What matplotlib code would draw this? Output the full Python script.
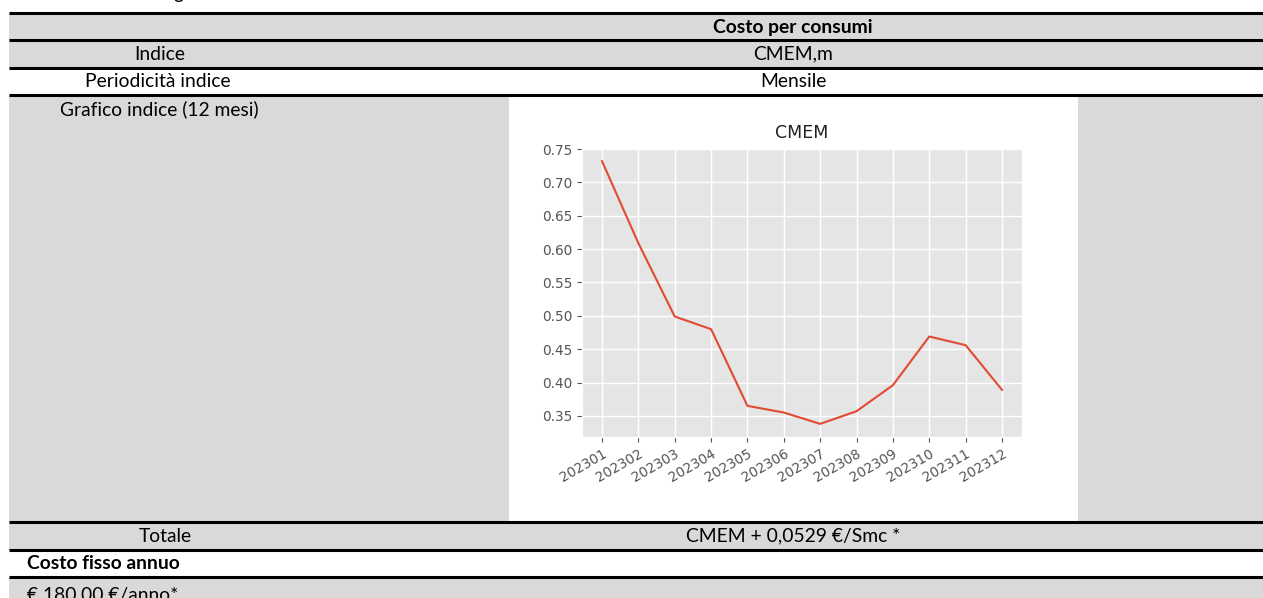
import matplotlib
matplotlib.use("Agg")
import matplotlib.pyplot as plt
from matplotlib.patches import Rectangle

# ---- data ----
months = ["202301", "202302", "202303", "202304", "202305", "202306",
          "202307", "202308", "202309", "202310", "202311", "202312"]
cmem = [0.732, 0.609, 0.499, 0.480, 0.365, 0.355,
        0.338, 0.357, 0.396, 0.469, 0.456, 0.389]
yticks = [0.35, 0.40, 0.45, 0.50, 0.55, 0.60, 0.65, 0.70, 0.75]

header = "Costo per consumi"
row_labels = ["Indice", "Periodicità indice", "Grafico indice (12 mesi)", "Totale"]
row_values = ["CMEM,m", "Mensile", "", "CMEM + 0,0529 €/Smc *"]
fixed_title = "Costo fisso annuo"
fixed_value = "€ 180.00 €/anno*"
chart_title = "CMEM"

W, H = 1263, 598
fig = plt.figure(figsize=(W / 100, H / 100), dpi=100)
bg = fig.add_axes([0, 0, 1, 1])
bg.set_xlim(0, W)
bg.set_ylim(H, 0)
bg.axis("off")

GRAY = "#D9D9D9"
FONT = "Lato"
FS = 13.9
x0 = 9

# row backgrounds (top, bottom, color)
rows = [(13, 40, GRAY), (40, 68, GRAY), (68, 95, "white"), (95, 522, GRAY),
        (522, 550, GRAY), (550, 577, "white"), (577, 600, GRAY)]
for t, b, c in rows:
    bg.add_patch(Rectangle((x0, t), W - x0, b - t, facecolor=c, edgecolor="none", zorder=1))
# white image area inside the chart row
bg.add_patch(Rectangle((509, 95), 1078 - 509, 522 - 95, facecolor="white", edgecolor="none", zorder=2))
# horizontal rules
for y in [13, 40, 68, 95, 522, 550, 577]:
    bg.plot([x0, W], [y, y], color="black", lw=2.2, zorder=3, solid_capstyle="butt")

# partially visible text above the table
bg.text(178, -1, "g", fontfamily=FONT, fontsize=FS, ha="center", va="baseline", zorder=4)

cx_right = 793
bg.text(cx_right, 27, header, fontfamily=FONT, fontsize=FS, fontweight="bold",
        ha="center", va="center", zorder=4)
row_centers = [54, 81.5, 109, 536]
left_centers = [160, 158, 159, 165]
for lab, val, yc, xc in zip(row_labels, row_values, row_centers, left_centers):
    bg.text(xc, yc, lab, fontfamily=FONT, fontsize=FS, ha="center", va="center", zorder=4)
    if val:
        bg.text(cx_right, yc, val, fontfamily=FONT, fontsize=FS,
                ha="center", va="center", zorder=4)
bg.text(27, 563.5, fixed_title, fontfamily=FONT, fontsize=FS, fontweight="bold",
        ha="left", va="center", zorder=4)
bg.text(27, 601, fixed_value, fontfamily=FONT, fontsize=FS, ha="left", va="baseline", zorder=4)

# ---- embedded chart (ggplot style) ----
with plt.style.context("ggplot"):
    left, right, top, bottom = 582, 1022, 148, 437
    ax = fig.add_axes([left / W, (H - bottom) / H, (right - left) / W, (bottom - top) / H])
    ax.plot(months, cmem, color="#E24A33", lw=1.5)
    ax.set_yticks(yticks)
    ax.set_yticklabels([f"{v:.2f}" for v in yticks])
    ax.set_title(chart_title, fontsize=12.5, color="#222222", pad=7)
    ax.tick_params(axis="both", labelsize=9.8, colors="#555555", labelcolor="#555555")
    for lbl in ax.get_xticklabels():
        lbl.set_rotation(30)
        lbl.set_ha("right")
        lbl.set_rotation_mode("anchor")
    ax.grid(True, color="white", lw=1.0)

fig.savefig("out.png", dpi=100)
